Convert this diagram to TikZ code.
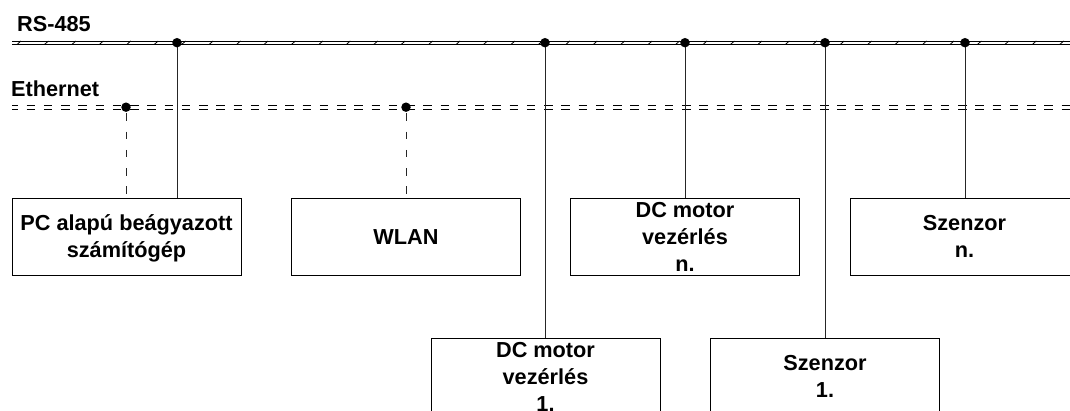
\documentclass[tikz,border=0pt]{standalone}
\usepackage{fontspec}
\setmainfont{Liberation Sans}
\newcommand\mystrut{\rule[-6pt]{0pt}{27pt}}
\begin{document}
\begin{tikzpicture}[x=1pt,y=-1pt,
  lbl/.style={font=\bfseries\fontsize{21.7}{27}\selectfont, inner sep=0pt},
  unit/.style={draw, line width=1pt, minimum width=229pt, minimum height=77pt, inner sep=0pt},
  utext/.style={inner sep=0pt, align=center, font=\bfseries\fontsize{21.7}{27}\selectfont},
  junction/.style={circle, fill=black, inner sep=0pt, minimum size=9.5pt},
  wire/.style={line width=1pt, black!85},
  ewire/.style={line width=1pt, black!85, dash pattern=on 7.5pt off 10.8pt, dash phase=12.3pt},
  busline/.style={line width=1pt},
  ebusline/.style={line width=1pt, dash pattern=on 8.3pt off 8.95pt, dash phase=2.55pt}]
\clip (0,0) rectangle (1070,410);
% labels
\node[lbl, anchor=base west] (rs) at (17,31) {RS-485};
\node[lbl, anchor=base west] (eth) at (11,96.5) {Ethernet};
% RS-485 bus
\draw[busline] (12,41) -- (1075,41);
\draw[busline] (12,44.5) -- (1075,44.5);
\foreach \i in {0,...,38} \draw[line width=0.8pt] ({19+27.44*\i-2},44.5) -- ({19+27.44*\i+2},41);
% Ethernet bus
\draw[ebusline] (12,105.3) -- (1075,105.3);
\draw[ebusline] (12,109.2) -- (1075,109.2);
% units
\node[unit] (pc) at (126.5,236.5) {};
\node[unit] (wlan) at (406,236.5) {};
\node[unit] (dcn) at (685,236.5) {};
\node[unit] (szn) at (964.5,236.5) {};
\node[unit] (dc1) at (545.5,376.5) {};
\node[unit] (sz1) at (825,376.5) {};
\node[utext] (pct) at (pc.center) {\mystrut PC alapú beágyazott\\\mystrut számítógép};
\node[utext] (wlant) at (wlan.center) {\mystrut WLAN};
\node[utext] (dcnt) at (dcn.center) {\mystrut DC motor\\\mystrut vezérlés\\\mystrut n.};
\node[utext] (sznt) at (szn.center) {\mystrut Szenzor\\\mystrut n.};
\node[utext] (dc1t) at (dc1.center) {\mystrut DC motor\\\mystrut vezérlés\\\mystrut 1.};
\node[utext] (sz1t) at (sz1.center) {\mystrut Szenzor\\\mystrut 1.};
% junction coordinates
\coordinate (j1) at (177,42.7);
\coordinate (j2) at (545,42.7);
\coordinate (j3) at (685,42.7);
\coordinate (j4) at (825,42.7);
\coordinate (j5) at (965,42.7);
\coordinate (e1) at (126,107.2);
\coordinate (e2) at (406,107.2);
% connectors
\draw[wire] (j1) -- (j1 |- pc.north);
\draw[wire] (j2) -- (j2 |- dc1.north);
\draw[wire] (j3) -- (j3 |- dcn.north);
\draw[wire] (j4) -- (j4 |- sz1.north);
\draw[wire] (j5) -- (j5 |- szn.north);
\draw[ewire] (e1) -- (e1 |- pc.north);
\draw[ewire] (e2) -- (e2 |- wlan.north);
% dots
\foreach \p in {j1,j2,j3,j4,j5,e1,e2} \node[junction] at (\p) {};
\end{tikzpicture}
\end{document}
